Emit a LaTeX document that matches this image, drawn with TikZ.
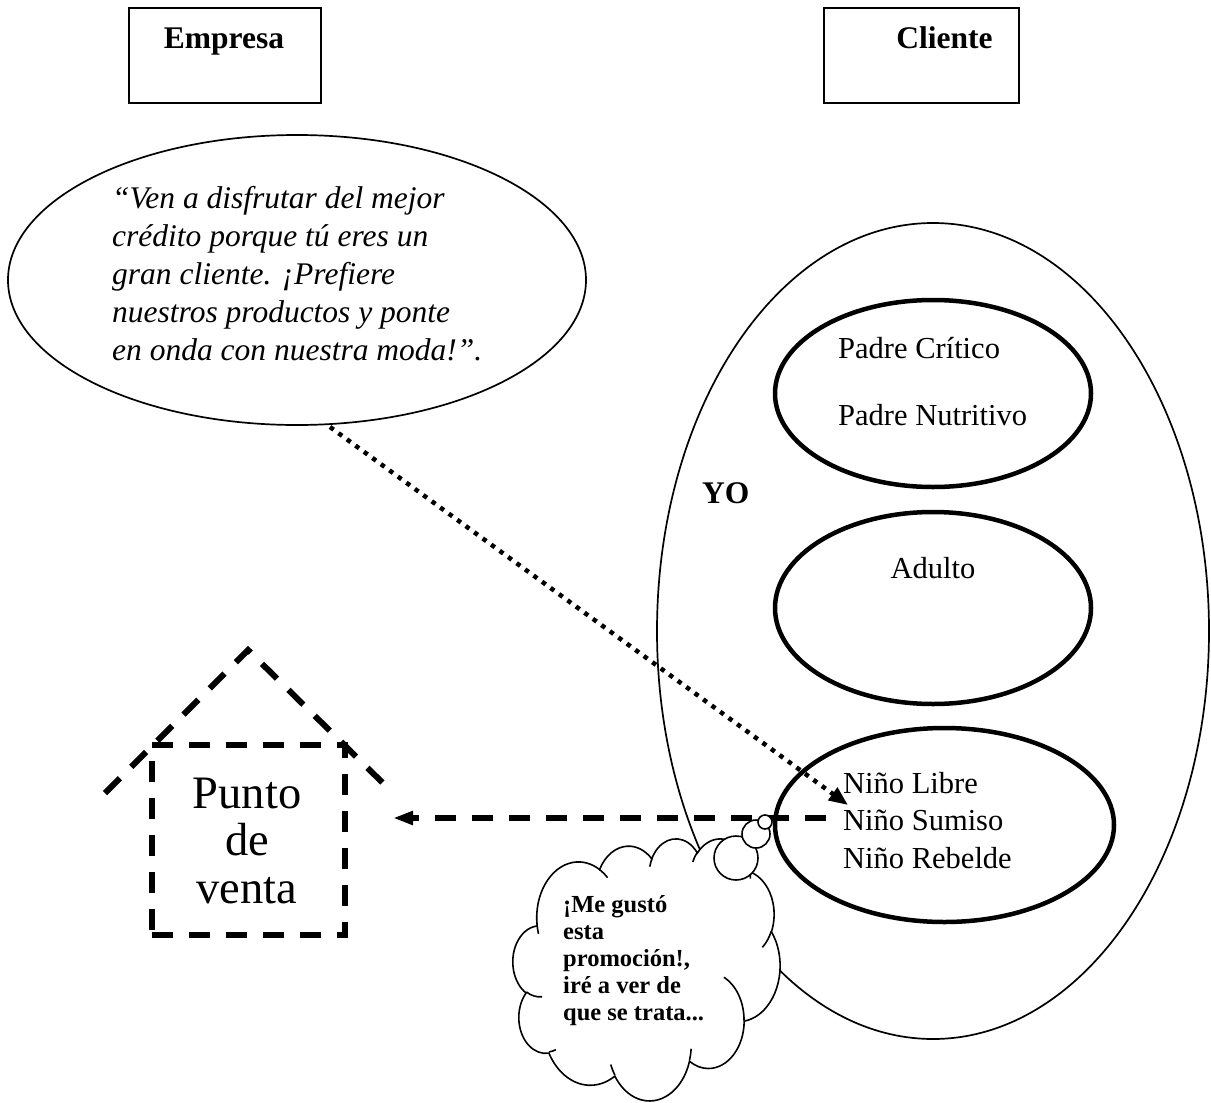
\documentclass[tikz,border=0pt]{standalone}
\usepackage{fontspec}
\setmainfont{Liberation Serif}
\usetikzlibrary{arrows.meta,shapes.geometric}

% parametric start angle and sweep of an elliptical arc given by visual angles
\newcommand\cldangles[5]{%
  \pgfmathsetmacro\cldS{atan2(#2*sin(#4),#3*cos(#4))}%
  \pgfmathsetmacro\cldE{atan2(#2*sin(#4+#5),#3*cos(#4+#5))}%
  \pgfmathsetmacro\cldD{mod(\cldE-\cldS+720,360)}%
  \expandafter\xdef\csname cldst#1\endcsname{\cldS}%
  \expandafter\xdef\csname cldsw#1\endcsname{\cldD}%
}

\tikzset{
  boxframe/.style={draw, line width=1.8pt, inner sep=0pt},
  thinoval/.style={ellipse, draw, line width=1.7pt, inner sep=0pt},
  stateoval/.style={ellipse, draw, line width=4.5pt, inner sep=0pt},
  txt/.style={inner sep=0pt, font=\fontsize{30.5}{36}\selectfont},
  txtb/.style={inner sep=0pt, font=\fontsize{31.5}{36}\selectfont\bfseries},
  txtit/.style={inner sep=0pt, font=\fontsize{31.5}{36}\selectfont\itshape},
  txtbig/.style={inner sep=0pt, font=\fontsize{46.5}{52}\selectfont},
  txtcloud/.style={inner sep=0pt, font=\fontsize{24.5}{29}\selectfont\bfseries},
  dotarrow/.style={line width=4.5pt, dash pattern=on 4.5pt off 6pt,
    -{Triangle[length=19pt,width=15pt]}},
  dasharrow/.style={line width=6pt, dash pattern=on 21pt off 16pt,
    -{Triangle[length=20pt,width=13pt]}},
  housedash/.style={line width=6pt, dash pattern=on 21pt off 16pt},
  cloudline/.style={line width=1.6pt},
  bubble/.style={circle, draw, fill=white, line width=1.6pt, inner sep=0pt},
}

\begin{document}
\begin{tikzpicture}[x=1pt,y=-1pt]
\fill[white] (0,0) rectangle (1211,1103);
\useasboundingbox (0,0) rectangle (1211,1103);

% header boxes
\node[boxframe, minimum width=192pt, minimum height=95pt] (empresa) at (225,55.5) {};
\node[txtb, anchor=base] (empresaT) at (224,48) {Empresa};
\node[boxframe, minimum width=195pt, minimum height=95pt] (cliente) at (921.5,55.5) {};
\node[txtb, anchor=base] (clienteT) at (944.5,48) {Cliente};

% company message
\node[thinoval, minimum width=578pt, minimum height=290pt] (msg) at (297,280) {};
\node[txtit, anchor=base west] (msg1) at (112,208.5) {“Ven a disfrutar del mejor};
\node[txtit, anchor=base west] (msg2) at (112,246.5) {crédito porque tú eres un};
\node[txtit, anchor=base west] (msg3) at (112,284.5) {gran cliente. ¡Prefiere};
\node[txtit, anchor=base west] (msg4) at (112,322.5) {nuestros productos y ponte};
\node[txtit, anchor=base west] (msg5) at (112,360.5) {en onda con nuestra moda!”.};

% ego states
\node[thinoval, minimum width=552pt, minimum height=816pt] (yo) at (933,631) {};
\node[txtb, anchor=base west] (yoT) at (702,503) {YO};

\node[stateoval, minimum width=316pt, minimum height=187pt] (padre) at (933,393.5) {};
\node[txt, anchor=base west] (padre1) at (838,358) {Padre Crítico};
\node[txt, anchor=base west] (padre2) at (838,425) {Padre Nutritivo};

\node[stateoval, minimum width=316pt, minimum height=192pt] (adulto) at (933,608) {};
\node[txt, anchor=base] (adultoT) at (933,578) {Adulto};

\node[stateoval, minimum width=339pt, minimum height=194pt] (nino) at (944.5,825) {};
\node[txt, anchor=base west] (nino1) at (843,793) {Niño Libre};
\node[txt, anchor=base west] (nino2) at (843,830.5) {Niño Sumiso};
\node[txt, anchor=base west] (nino3) at (843,868) {Niño Rebelde};

% point of sale
\coordinate (roofL) at (105,793);
\coordinate (roofTop) at (248,650);
\coordinate (roofR) at (393,793);
\draw[housedash] (roofL) -- (roofTop) -- (roofR);
\node[draw, housedash, minimum width=193pt, minimum height=190pt, inner sep=0pt] (venta) at (248.5,840) {};
\node[txtbig, anchor=base] (venta1) at (247,808) {Punto};
\node[txtbig, anchor=base] (venta2) at (247,855.5) {de};
\node[txtbig, anchor=base] (venta3) at (247,903) {venta};

% connectors
\coordinate (dotstart) at (330,427);
\coordinate (dottip) at (848,805);
\draw[dotarrow] (dotstart) -- (dottip);
\coordinate (dashstart) at (826,818);
\coordinate (dashtip) at (393,818);
\draw[dasharrow] (dashstart) -- (dashtip);

% thought cloud outline (arcs given by visual angles)
\cldangles{a}{67.53}{91.90}{-190.487}{123.781}
\cldangles{b}{53.33}{72.67}{-144.102}{89.945}
\cldangles{c}{43.65}{59.45}{-145.808}{99.723}
\cldangles{d}{48.57}{65.95}{-130.986}{117.242}
\cldangles{e}{53.33}{72.73}{-78.709}{109.027}
\cldangles{f}{67.75}{92.20}{-46.267}{130.269}
\cldangles{g}{57.85}{78.67}{0.625}{114.033}
\cldangles{h}{67.52}{92.15}{22.452}{115.173}
\cldangles{i}{77.20}{105.43}{66.243}{75.711}
\cldangles{j}{43.60}{59.18}{-274.942}{146.736}
\cldangles{k}{43.45}{59.45}{-246.829}{152.519}
\cldangles{l}{43.45}{59.45}{86.742}{26.430}
\cldangles{m}{43.60}{59.18}{73.610}{11.447}
\cldangles{n}{67.52}{92.15}{137.624}{14.081}
\cldangles{o}{67.52}{92.15}{6.453}{15.998}
\cldangles{p}{57.85}{78.67}{-70.292}{70.917}
\cldangles{q}{53.33}{72.73}{30.318}{27.752}
\cldangles{r}{48.57}{65.95}{-13.744}{14.859}
\cldangles{s}{48.57}{65.95}{-149.181}{18.195}
\cldangles{t}{43.65}{59.45}{-163.494}{17.686}
\cldangles{u}{67.53}{91.90}{-66.707}{12.319}
\cldangles{v}{67.53}{91.90}{157.654}{11.858}

\begin{scope}[shift={(513,838)}, x={(0.61806pt,0pt)}, y={(0pt,-0.60648pt)}]
\draw[cloudline, fill=white] (39.00,143.70)
  arc[start angle=\cldsta, delta angle=\cldswa, x radius=67.53, y radius=91.90]
  arc[start angle=\cldstb, delta angle=\cldswb, x radius=53.33, y radius=72.67]
  arc[start angle=\cldstc, delta angle=\cldswc, x radius=43.65, y radius=59.45]
  arc[start angle=\cldstd, delta angle=\cldswd, x radius=48.57, y radius=65.95]
  arc[start angle=\cldste, delta angle=\cldswe, x radius=53.33, y radius=72.73]
  arc[start angle=\cldstf, delta angle=\cldswf, x radius=67.75, y radius=92.20]
  arc[start angle=\cldstg, delta angle=\cldswg, x radius=57.85, y radius=78.67]
  arc[start angle=\cldsth, delta angle=\cldswh, x radius=67.52, y radius=92.15]
  arc[start angle=\cldsti, delta angle=\cldswi, x radius=77.20, y radius=105.43]
  arc[start angle=\cldstj, delta angle=\cldswj, x radius=43.60, y radius=59.18]
  arc[start angle=\cldstk, delta angle=\cldswk, x radius=43.45, y radius=59.45]
  -- cycle;
\draw[cloudline]
  (46.93,261.77) arc[start angle=\cldstl, delta angle=\cldswl, x radius=43.45, y radius=59.45]
  (69.28,348.99) arc[start angle=\cldstm, delta angle=\cldswm, x radius=43.60, y radius=59.18]
  (164.78,390.90) arc[start angle=\cldstn, delta angle=\cldswn, x radius=67.52, y radius=92.15]
  (288.27,347.51) arc[start angle=\cldsto, delta angle=\cldswo, x radius=67.52, y radius=92.15]
  (341.29,229.54) arc[start angle=\cldstp, delta angle=\cldswp, x radius=57.85, y radius=78.67]
  (417.98,153.54) arc[start angle=\cldstq, delta angle=\cldswq, x radius=53.33, y radius=72.73]
  (383.24,54.26) arc[start angle=\cldstr, delta angle=\cldswr, x radius=48.57, y radius=65.95]
  (290.78,39.52) arc[start angle=\cldsts, delta angle=\cldsws, x radius=48.57, y radius=65.95]
  (221.41,47.20) arc[start angle=\cldstt, delta angle=\cldswt, x radius=43.65, y radius=59.45]
  (140.00,51.92) arc[start angle=\cldstu, delta angle=\cldswu, x radius=67.53, y radius=91.90]
  (41.27,157.89) arc[start angle=\cldstv, delta angle=\cldswv, x radius=67.53, y radius=91.90];
\end{scope}

\node[txtcloud, anchor=base west] (thought1) at (563,912) {¡Me gustó};
\node[txtcloud, anchor=base west] (thought2) at (563,939) {esta};
\node[txtcloud, anchor=base west] (thought3) at (563,966) {promoción!,};
\node[txtcloud, anchor=base west] (thought4) at (563,993) {iré a ver de};
\node[txtcloud, anchor=base west] (thought5) at (563,1020) {que se trata...};

% thought bubbles
\node[bubble, minimum size=44pt] (bubbleL) at (736,858) {};
\node[bubble, minimum size=28pt] (bubbleM) at (756,834) {};
\node[bubble, minimum size=14pt] (bubbleS) at (765,822) {};
\end{tikzpicture}
\end{document}
